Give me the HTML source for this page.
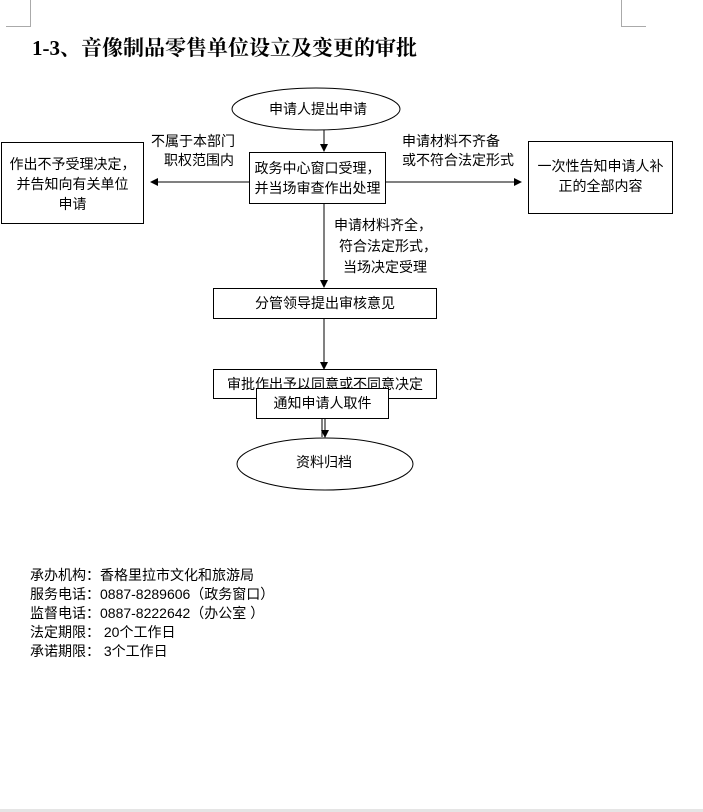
<!DOCTYPE html>
<html><head><meta charset="utf-8"><style>
body{margin:0;width:703px;height:812px;background:#fff;position:relative;overflow:hidden;font-family:"Liberation Sans","Noto Sans CJK SC",sans-serif;color:#000}
.a{position:absolute}
.b{position:absolute;border:1px solid #000;background:#fff;box-sizing:border-box;font-size:14px;text-align:center;line-height:20px;white-space:nowrap}
.t{position:absolute;font-size:14px;line-height:20px;white-space:nowrap}
</style></head><body>
<div class="a" style="left:30px;top:0;width:1px;height:26px;background:#aaa"></div>
<div class="a" style="left:6px;top:26px;width:25px;height:1px;background:#aaa"></div>
<div class="a" style="left:621px;top:0;width:1px;height:26px;background:#aaa"></div>
<div class="a" style="left:621px;top:26px;width:25px;height:1px;background:#aaa"></div>
<div class="t" style="left:32px;top:35px;font-size:21px;font-weight:bold;line-height:26px;font-family:'Liberation Serif','Noto Serif CJK SC',serif">1-3、音像制品零售单位设立及变更的审批</div>
<svg class="a" style="left:0;top:0" width="703" height="812">
<defs><marker id="m" markerWidth="8" markerHeight="8" refX="7" refY="4" orient="auto" markerUnits="userSpaceOnUse"><path d="M0,0 L8,4 L0,8z" fill="#000"/></marker></defs>
<ellipse cx="316" cy="109" rx="84" ry="21" fill="#fff" stroke="#000"/>
<line x1="324" y1="130" x2="324" y2="151" stroke="#000" marker-end="url(#m)"/>
<line x1="249" y1="182" x2="151" y2="182" stroke="#000" marker-end="url(#m)"/>
<line x1="385" y1="182" x2="521" y2="182" stroke="#000" marker-end="url(#m)"/>
<line x1="324" y1="204" x2="324" y2="287" stroke="#000" marker-end="url(#m)"/>
<line x1="324" y1="318" x2="324" y2="369" stroke="#000" marker-end="url(#m)"/>
<line x1="322" y1="398" x2="322" y2="437" stroke="#000"/>
<line x1="325" y1="398" x2="325" y2="437" stroke="#000" marker-end="url(#m)"/>
<ellipse cx="325" cy="464" rx="88" ry="26" fill="#fff" stroke="#000"/>
</svg>
<div class="t" style="left:269px;top:99px">申请人提出申请</div>
<div class="b" style="left:249px;top:152px;width:137px;height:52px;padding-top:5px">政务中心窗口受理，<br>并当场审查作出处理</div>
<div class="b" style="left:1px;top:142px;width:143px;height:82px;padding-top:11px">作出不予受理决定，<br>并告知向有关单位<br>申请</div>
<div class="b" style="left:528px;top:141px;width:145px;height:73px;padding-top:14px">一次性告知申请人补<br>正的全部内容</div>
<div class="t" style="left:151px;top:131px">不属于本部门</div>
<div class="t" style="left:164px;top:150px">职权范围内</div>
<div class="t" style="left:402px;top:131px">申请材料不齐备</div>
<div class="t" style="left:402px;top:150px">或不符合法定形式</div>
<div class="t" style="left:334px;top:215px">申请材料齐全，</div>
<div class="t" style="left:339px;top:236px">符合法定形式，</div>
<div class="t" style="left:343px;top:257px">当场决定受理</div>
<div class="b" style="left:213px;top:288px;width:224px;height:31px;padding-top:4px">分管领导提出审核意见</div>
<div class="b" style="left:213px;top:369px;width:224px;height:30px;padding-top:4px">审批作出予以同意或不同意决定</div>
<div class="b" style="left:256px;top:388px;width:133px;height:31px;padding-top:4px">通知申请人取件</div>
<div class="t" style="left:296px;top:452px">资料归档</div>
<div class="t" style="left:30px;top:566px;line-height:19px">承办机构：香格里拉市文化和旅游局<br>服务电话：0887-8289606（政务窗口）<br>监督电话：0887-8222642（办公室 ）<br>法定期限： 20个工作日<br>承诺期限： 3个工作日</div>
<div class="a" style="left:0;top:809px;width:703px;height:3px;background:#e5e5e5"></div>
</body></html>
